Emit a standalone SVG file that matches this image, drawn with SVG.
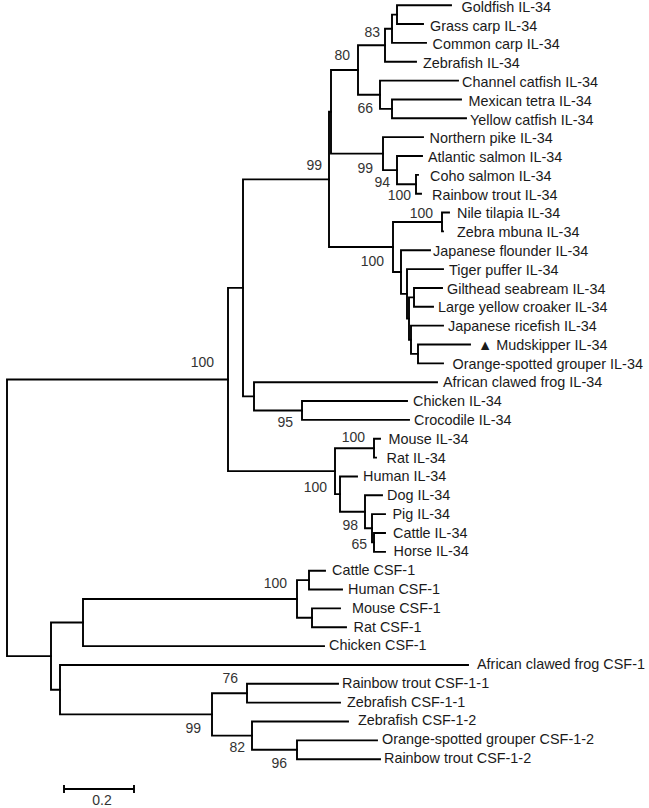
<svg xmlns="http://www.w3.org/2000/svg" width="649" height="808" viewBox="0 0 649 808">
<style>
.br{fill:none;stroke:#000;stroke-width:1.9;stroke-linecap:square;stroke-linejoin:miter}
.lf{font-family:"Liberation Sans","DejaVu Sans",Arial,sans-serif;font-size:14.4px;fill:#1a1a1a}
.bs{font-family:"Liberation Sans",Arial,sans-serif;font-size:14px;fill:#333;text-anchor:end}
</style>
<rect width="649" height="808" fill="#fff"/>
<g id="connectors" class="br">
<path d="M7 379.5V656.1M7 379.5H228M7 656.1H51"/>
<path d="M228 287.9V471.15M228 287.9H243M228 471.15H335"/>
<path d="M243 179.4V396.35M243 179.4H329M243 396.35H254"/>
<path d="M329 111.8V247M329 111.8H331M329 247H393"/>
<path d="M331 70V153.65M331 70H358M331 153.65H383"/>
<path d="M358 45.25V94.75M358 45.25H385M358 94.75H380"/>
<path d="M385 28.75V61.75M385 28.75H392M385 61.75H416"/>
<path d="M392 14.6V42.9M392 14.6H397M392 42.9H426"/>
<path d="M397 5.2V24.05M397 5.2H451M397 24.05H423"/>
<path d="M380 80.6V108.9M380 80.6H458M380 108.9H392"/>
<path d="M392 99.45V118.3M392 99.45H461M392 118.3H466"/>
<path d="M383 137.15V170.15M383 137.15H423M383 170.15H397"/>
<path d="M397 156V184.3M397 156H422M397 184.3H416"/>
<path d="M416 174.85V193.7M416 174.85H418M416 193.7H421"/>
<path d="M393 222V272.05M393 222H442M393 272.05H401"/>
<path d="M442 212.55V231.4M442 212.55H449M442 231.4H443"/>
<path d="M401 250.25V293.85M401 250.25H430M401 293.85H407"/>
<path d="M407 269.1V318.6M407 269.1H443M407 318.6H409"/>
<path d="M409 297.4V339.8M409 297.4H414M409 339.8H411"/>
<path d="M414 287.95V306.8M414 287.95H442M414 306.8H433"/>
<path d="M411 325.65V353.9M411 325.65H443M411 353.9H418"/>
<path d="M418 344.5V363.35M418 344.5H470M418 363.35H443"/>
<path d="M254 382.2V410.5M254 382.2H437M254 410.5H302"/>
<path d="M302 401.05V419.9M302 401.05H407M302 419.9H409"/>
<path d="M335 448.2V494.1M335 448.2H374M335 494.1H340"/>
<path d="M374 438.75V457.6M374 438.75H380M374 457.6H376"/>
<path d="M340 476.45V511.8M340 476.45H357M340 511.8H365"/>
<path d="M365 495.3V528.3M365 495.3H382M365 528.3H372"/>
<path d="M372 514.15V542.4M372 514.15H385M372 542.4H374"/>
<path d="M374 533V551.85M374 533H385M374 551.85H385"/>
<path d="M51 622.5V689.7M51 622.5H83M51 689.7H60"/>
<path d="M83 599V646.1M83 599H297M83 646.1H324"/>
<path d="M297 580.1V617.8M297 580.1H309M297 617.8H312"/>
<path d="M309 570.7V589.55M309 570.7H325M309 589.55H342"/>
<path d="M312 608.4V627.25M312 608.4H340M312 627.25H346"/>
<path d="M60 664.95V714.4M60 664.95H468M60 714.4H212"/>
<path d="M212 693.2V735.6M212 693.2H247M212 735.6H252"/>
<path d="M247 683.8V702.65M247 683.8H338M247 702.65H340"/>
<path d="M252 721.5V749.8M252 721.5H348M252 749.8H297"/>
<path d="M297 740.35V759.2M297 740.35H377M297 759.2H380"/>
</g>
<g id="leaves" class="lf">
<g id="leaf-goldfish-il34"><text x="461.5" y="11.85">Goldfish IL-34</text></g>
<g id="leaf-grasscarp-il34"><text x="430" y="30.63">Grass carp IL-34</text></g>
<g id="leaf-commoncarp-il34"><text x="432.5" y="49.41">Common carp IL-34</text></g>
<g id="leaf-zebrafish-il34"><text x="423" y="68.19">Zebrafish IL-34</text></g>
<g id="leaf-channelcatfish-il34"><text x="462" y="86.97">Channel catfish IL-34</text></g>
<g id="leaf-mexicantetra-il34"><text x="468.5" y="105.75">Mexican tetra IL-34</text></g>
<g id="leaf-yellowcatfish-il34"><text x="470" y="124.53">Yellow catfish IL-34</text></g>
<g id="leaf-northernpike-il34"><text x="429.5" y="143.31">Northern pike IL-34</text></g>
<g id="leaf-atlanticsalmon-il34"><text x="428" y="162.09">Atlantic salmon IL-34</text></g>
<g id="leaf-cohosalmon-il34"><text x="430" y="180.87">Coho salmon IL-34</text></g>
<g id="leaf-rainbowtrout-il34"><text x="432" y="199.65">Rainbow trout IL-34</text></g>
<g id="leaf-niletilapia-il34"><text x="457" y="218.43">Nile tilapia IL-34</text></g>
<g id="leaf-zebrambuna-il34"><text x="457" y="237.21">Zebra mbuna IL-34</text></g>
<g id="leaf-japaneseflounder-il34"><text x="433" y="255.99">Japanese flounder IL-34</text></g>
<g id="leaf-tigerpuffer-il34"><text x="449" y="274.77">Tiger puffer IL-34</text></g>
<g id="leaf-giltheadseabream-il34"><text x="447" y="293.55">Gilthead seabream IL-34</text></g>
<g id="leaf-largeyellowcroaker-il34"><text x="438" y="312.33">Large yellow croaker IL-34</text></g>
<g id="leaf-japaneservicefish-il34"><text x="448" y="331.11">Japanese ricefish IL-34</text></g>
<g id="leaf-mudskipper-il34"><text x="478" y="349.89">▲ Mudskipper IL-34</text></g>
<g id="leaf-orangespottedgrouper-il34"><text x="452.5" y="368.67">Orange-spotted grouper IL-34</text></g>
<g id="leaf-africanclawedfrog-il34"><text x="443" y="387.45">African clawed frog IL-34</text></g>
<g id="leaf-chicken-il34"><text x="413" y="406.23">Chicken IL-34</text></g>
<g id="leaf-crocodile-il34"><text x="414" y="425.01">Crocodile IL-34</text></g>
<g id="leaf-mouse-il34"><text x="388.5" y="443.79">Mouse IL-34</text></g>
<g id="leaf-rat-il34"><text x="386.5" y="462.57">Rat IL-34</text></g>
<g id="leaf-human-il34"><text x="363" y="481.35">Human IL-34</text></g>
<g id="leaf-dog-il34"><text x="387" y="500.13">Dog IL-34</text></g>
<g id="leaf-pig-il34"><text x="392.5" y="518.91">Pig IL-34</text></g>
<g id="leaf-cattle-il34"><text x="393" y="537.69">Cattle IL-34</text></g>
<g id="leaf-horse-il34"><text x="393.5" y="556.47">Horse IL-34</text></g>
<g id="leaf-cattle-csf1"><text x="332" y="575.25">Cattle CSF-1</text></g>
<g id="leaf-human-csf1"><text x="348" y="594.03">Human CSF-1</text></g>
<g id="leaf-mouse-csf1"><text x="352" y="612.81">Mouse CSF-1</text></g>
<g id="leaf-rat-csf1"><text x="353.5" y="631.59">Rat CSF-1</text></g>
<g id="leaf-chicken-csf1"><text x="329" y="650.37">Chicken CSF-1</text></g>
<g id="leaf-africanclawedfrog-csf1"><text x="477" y="669.15">African clawed frog CSF-1</text></g>
<g id="leaf-rainbowtrout-csf1-1"><text x="342" y="687.93">Rainbow trout CSF-1-1</text></g>
<g id="leaf-zebrafish-csf1-1"><text x="347" y="706.71">Zebrafish CSF-1-1</text></g>
<g id="leaf-zebrafish-csf1-2"><text x="358" y="725.49">Zebrafish CSF-1-2</text></g>
<g id="leaf-orangespottedgrouper-csf1-2"><text x="382" y="744.27">Orange-spotted grouper CSF-1-2</text></g>
<g id="leaf-rainbowtrout-csf1-2"><text x="384" y="763.05">Rainbow trout CSF-1-2</text></g>
</g>
<g id="bootstrap" class="bs">
<text x="214" y="367">100</text>
<text x="322" y="170">99</text>
<text x="350" y="60">80</text>
<text x="380" y="37">83</text>
<text x="373" y="113">66</text>
<text x="373" y="173">99</text>
<text x="390" y="187">94</text>
<text x="411" y="200">100</text>
<text x="433" y="218">100</text>
<text x="384" y="266">100</text>
<text x="293" y="427">95</text>
<text x="365" y="442">100</text>
<text x="327" y="492">100</text>
<text x="358" y="530">98</text>
<text x="367" y="549">65</text>
<text x="287" y="588">100</text>
<text x="238" y="683">76</text>
<text x="201" y="733">99</text>
<text x="245" y="752">82</text>
<text x="287" y="768">96</text>
</g>
<g id="scale-bar">
<path class="br" d="M64 789H134M64 786V792M134 786V792"/>
<text x="102" y="805" style="font-family:'Liberation Sans',Arial,sans-serif;font-size:14px;fill:#333;text-anchor:middle">0.2</text>
</g>
</svg>
